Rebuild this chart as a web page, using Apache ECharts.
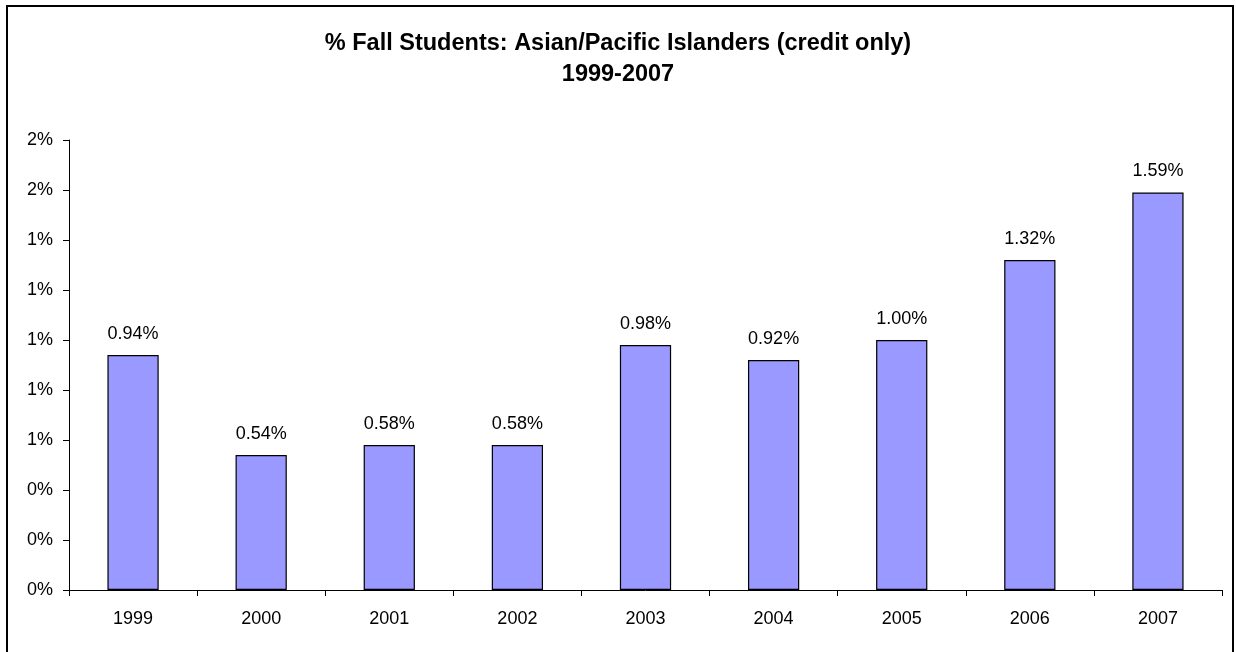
<!DOCTYPE html>
<html>
<head>
<meta charset="utf-8">
<script src="https://cdn.jsdelivr.net/npm/echarts@6/dist/echarts.min.js"></script>
<style>
html,body{margin:0;padding:0;background:#fff;}
#main{width:1236px;height:652px;}
</style>
</head>
<body>
<div id="main"></div>
<script>
var categories = ['1999','2000','2001','2002','2003','2004','2005','2006','2007'];
var values = [0.94, 0.54, 0.58, 0.58, 0.98, 0.92, 1.00, 1.32, 1.59];
var titleLines = ['% Fall Students: Asian/Pacific Islanders (credit only)', '1999-2007'];

var chart = echarts.init(document.getElementById('main'), null, {renderer:'canvas'});
var font = 'Liberation Sans, Arial, sans-serif';
chart.setOption({
  animation:false,
  backgroundColor:'#fff',
  title:{
    text: titleLines.join('\n'),
    left:'center', top:23,
    textStyle:{fontFamily:font, fontSize:23.5, fontWeight:'bold', color:'#000', lineHeight:31}
  },
  graphic:[{
    type:'rect', shape:{x:7, y:6, width:1226, height:700},
    style:{fill:'none', stroke:'#000', lineWidth:2}, silent:true
  }],
  grid:{left:69, right:14, top:140, bottom:62, containLabel:false},
  xAxis:{
    type:'category', data:categories,
    axisLine:{lineStyle:{color:'#000', width:1}},
    axisTick:{show:true, length:6, inside:false, lineStyle:{color:'#000'}},
    axisLabel:{fontFamily:font, fontSize:18, color:'#000', margin:20},
    splitLine:{show:false}
  },
  yAxis:{
    type:'value', min:0, max:1.8, interval:0.2,
    axisLine:{show:true, lineStyle:{color:'#000', width:1}},
    axisTick:{show:true, length:6, lineStyle:{color:'#000'}},
    axisLabel:{fontFamily:font, fontSize:18, color:'#000', margin:16,
      formatter:function(v){return Math.round(v)+'%';}},
    splitLine:{show:false}
  },
  series:[{
    type:'bar', data:values, barWidth:'40%',
    itemStyle:{color:'#9999FF', borderColor:'#000', borderWidth:1.2},
    label:{show:true, position:'top', distance:12, fontFamily:font, fontSize:18, color:'#000',
      formatter:function(p){return p.value.toFixed(2)+'%';}}
  }]
});
</script>
</body>
</html>
